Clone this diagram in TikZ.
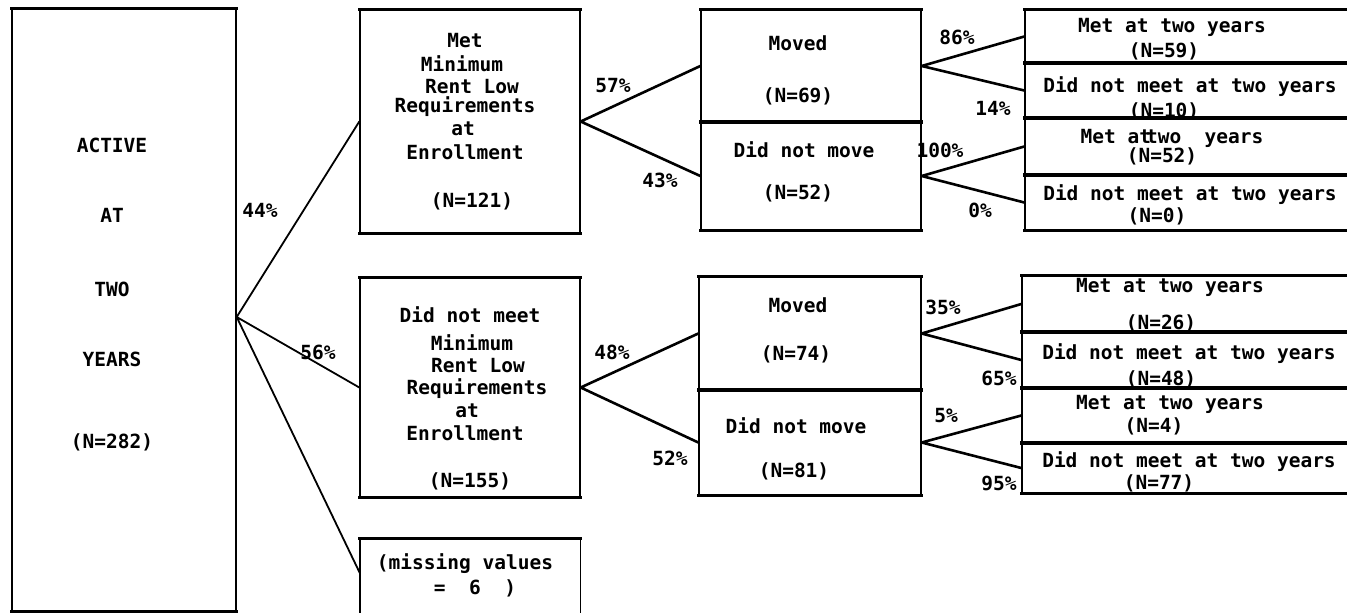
\documentclass[tikz,border=0pt]{standalone}
\usepackage{fontspec}
\setmonofont{DejaVu Sans Mono}
\usetikzlibrary{calc}
\tikzset{
  cell/.style 2 args={draw, line width=1.4pt, inner sep=0pt, minimum width=#1, minimum height=#2},
  hline/.style={line width=3pt, line cap=rect},
  cellside/.style={line width=1.4pt},
  conn/.style={line width=2.6pt, line cap=round},
  connthin/.style={line width=1.8pt, line cap=round},
  lbl/.style={font=\ttfamily\bfseries\fontsize{19.5}{20}\selectfont, inner sep=0pt, text height=14pt, text depth=0pt}
}
\begin{document}
\begin{tikzpicture}[x=1pt,y=-1pt]
\useasboundingbox[fill=white] (0,0) rectangle (1347,613);

% boxes
\node[cell={224pt}{602pt}] (active) at (124,310) {};
\node[cell={220pt}{223pt}] (met) at (470,121.5) {};
\node[cell={220pt}{219pt}] (notmet) at (470,387.5) {};
\node[minimum width=220pt, minimum height=68pt, inner sep=0pt] (missing) at (470,573) {};
\node[cell={220pt}{112pt}] (mv1) at (811,66) {};
\node[cell={220pt}{108pt}] (nm1) at (811,176) {};
\node[cell={222pt}{113pt}] (mv2) at (810,333.5) {};
\node[cell={222pt}{105pt}] (nm2) at (810,442.5) {};
\node[cell={327pt}{53pt}] (r1) at (1188.5,36.5) {};
\node[cell={327pt}{55pt}] (r2) at (1188.5,90.5) {};
\node[cell={327pt}{57pt}] (r3) at (1188.5,146.5) {};
\node[cell={327pt}{55pt}] (r4) at (1188.5,202.5) {};
\node[cell={330pt}{56pt}] (r5) at (1187,304) {};
\node[cell={330pt}{56pt}] (r6) at (1187,360) {};
\node[cell={330pt}{55pt}] (r7) at (1187,415.5) {};
\node[cell={330pt}{50pt}] (r8) at (1187,468) {};

\foreach \n in {active,met,notmet,mv1,nm1,mv2,nm2,r1,r2,r3,r4,r5,r6,r7,r8}{
  \draw[hline] (\n.north west) -- (\n.north east) (\n.south west) -- (\n.south east);
}
\draw[cellside] (missing.north west) -- ++(0,80) (missing.north east) -- ++(0,80);
\draw[hline] (missing.north west) -- (missing.north east);

% connectors
\coordinate (aj) at ([yshift=-7pt]active.east);
\draw[connthin] (aj) -- (met.west) (aj) -- (notmet.west) (aj) -- (missing.west);
\draw[conn] (met.east) -- (mv1.west) (met.east) -- (nm1.west);
\draw[conn] (notmet.east) -- (mv2.west) (notmet.east) -- (nm2.west);
\draw[conn] (mv1.east) -- (r1.west) (mv1.east) -- (r2.west);
\draw[conn] (nm1.east) -- (r3.west) (nm1.east) -- (r4.west);
\draw[conn] (mv2.east) -- (r5.west) (mv2.east) -- (r6.west);
\draw[conn] (nm2.east) -- (r7.west) (nm2.east) -- (r8.west);

% left box text
\node[lbl] (a1) at (112,145) {ACTIVE};
\node[lbl] (a2) at (112,215) {AT};
\node[lbl] (a3) at (112,289) {TWO};
\node[lbl] (a4) at (112,359) {YEARS};
\node[lbl] (a5) at (112,441) {(N=282)};

% met box
\node[lbl] (m1) at (465,40) {Met};
\node[lbl] (m2) at (462,64) {Minimum};
\node[lbl] (m3) at (472,86) {Rent Low};
\node[lbl] (m4) at (465,105) {Requirements};
\node[lbl] (m5) at (463,128) {at};
\node[lbl] (m6) at (465,152) {Enrollment};
\node[lbl] (m7) at (472,200) {(N=121)};

% did not meet box
\node[lbl] (n1) at (470,315) {Did not meet};
\node[lbl] (n2) at (472,343) {Minimum};
\node[lbl] (n3) at (478,365) {Rent Low};
\node[lbl] (n4) at (477,387) {Requirements};
\node[lbl] (n5) at (467,410) {at};
\node[lbl] (n6) at (465,433) {Enrollment};
\node[lbl] (n7) at (470,480) {(N=155)};

% missing
\node[lbl] (s1) at (465,562) {(missing values};
\node[lbl] (s2) at (475,587) {=\ \ 6\ \ )};

% moved / did not move
\node[lbl] (v1) at (798,43) {Moved};
\node[lbl] (v2) at (798,95) {(N=69)};
\node[lbl] (v3) at (804,150) {Did not move};
\node[lbl] (v4) at (798,192) {(N=52)};
\node[lbl] (v5) at (798,305) {Moved};
\node[lbl] (v6) at (796,353) {(N=74)};
\node[lbl] (v7) at (796,426) {Did not move};
\node[lbl] (v8) at (794,470) {(N=81)};

% right boxes
\node[lbl] (q1) at (1172,25) {Met at two years};
\node[lbl] (q2) at (1164,50) {(N=59)};
\node[lbl] (q3) at (1190,85) {Did not meet at two years};
\node[lbl] (q4) at (1164,110) {(N=10)};
\node[lbl] (q5) at (1172,136) {Met at\hspace{-5pt}two\ \ years};
\node[lbl] (q6) at (1162,155) {(N=52)};
\node[lbl] (q7) at (1190,193) {Did not meet at two years};
\node[lbl] (q8) at (1157,215) {(N=0)};
\node[lbl] (q9) at (1170,285) {Met at two years};
\node[lbl] (q10) at (1161,322) {(N=26)};
\node[lbl] (q11) at (1189,352) {Did not meet at two years};
\node[lbl] (q12) at (1161,378) {(N=48)};
\node[lbl] (q13) at (1170,402) {Met at two years};
\node[lbl] (q14) at (1154,425) {(N=4)};
\node[lbl] (q15) at (1189,460) {Did not meet at two years};
\node[lbl] (q16) at (1159,482) {(N=77)};

% percentages
\node[lbl] (p1) at (260,210) {44\%};
\node[lbl] (p2) at (318,352) {56\%};
\node[lbl] (p3) at (613,85) {57\%};
\node[lbl] (p4) at (660,180) {43\%};
\node[lbl] (p5) at (612,352) {48\%};
\node[lbl] (p6) at (670,458) {52\%};
\node[lbl] (p7) at (957,37) {86\%};
\node[lbl] (p8) at (993,108) {14\%};
\node[lbl] (p9) at (940,150) {100\%};
\node[lbl] (p10) at (980,210) {0\%};
\node[lbl] (p11) at (943,307) {35\%};
\node[lbl] (p12) at (999,378) {65\%};
\node[lbl] (p13) at (946,415) {5\%};
\node[lbl] (p14) at (999,483) {95\%};
\end{tikzpicture}
\end{document}
